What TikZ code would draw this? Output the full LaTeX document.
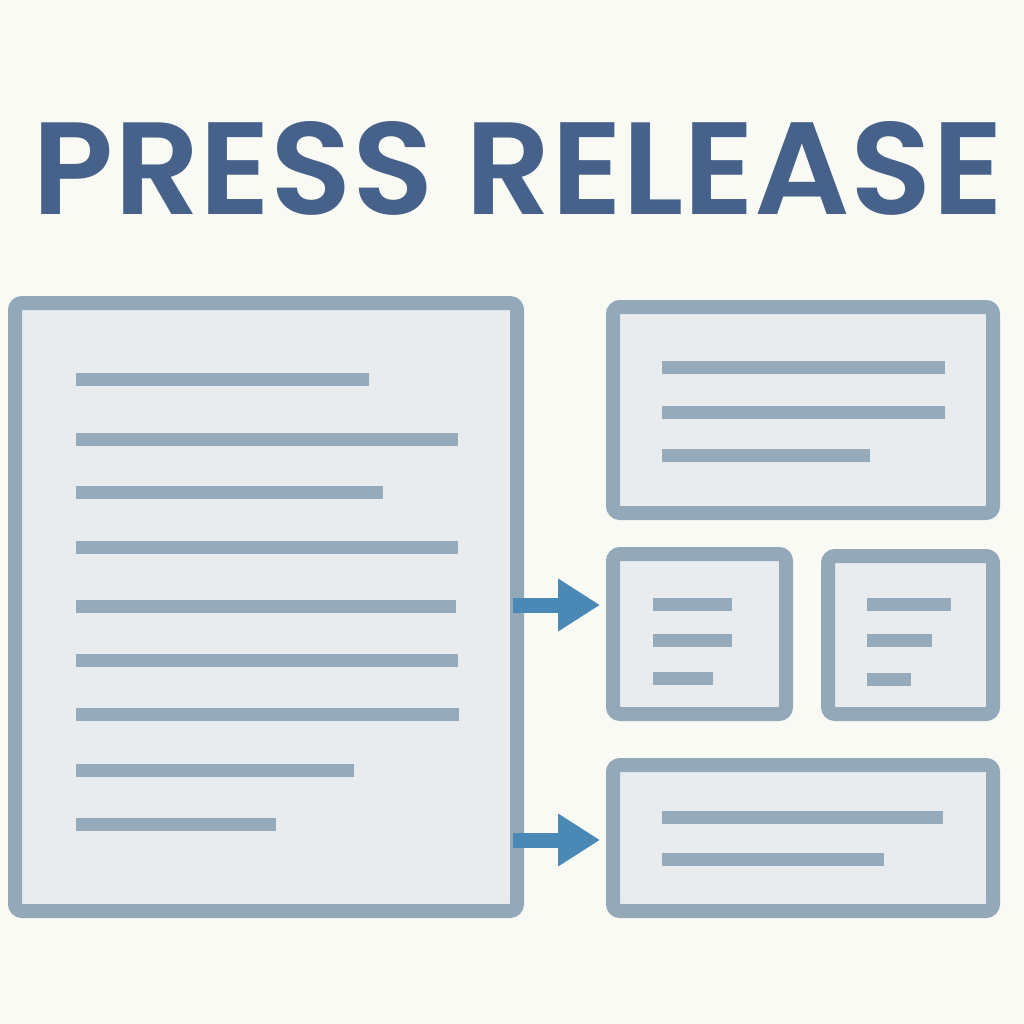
\documentclass[tikz,border=0pt]{standalone}
\usepackage{fontspec}
\setmainfont{Poppins}
\newfontfamily\titlefont{Poppins SemiBold}
\usetikzlibrary{arrows.meta}

\definecolor{paper}{HTML}{FAFAF5}
\definecolor{titleblue}{HTML}{46628A}
\definecolor{frame}{HTML}{93A8B8}
\definecolor{sheet}{HTML}{E8ECEF}
\definecolor{textbar}{HTML}{95AABA}
\definecolor{arrowblue}{HTML}{4A89B5}

\tikzset{
  panel/.style={draw=frame, fill=sheet, line width=14pt, rounded corners=7pt, inner sep=0pt},
  bar/.style={draw=textbar, line width=13pt},
  flow/.style={draw=arrowblue, line width=15pt, -{Triangle[length=42pt,width=50pt]}}
}

\begin{document}
\begin{tikzpicture}[x=1pt, y=-1pt]
  \useasboundingbox[fill=paper] (0,0) rectangle (1024,1024);

  % title
  \node[text=titleblue, inner sep=0pt] (title) at (518,168)
    {\resizebox{970pt}{93pt}{\titlefont PRESS RELEASE}};

  % the long document
  \node[panel, minimum width=502pt, minimum height=608pt] (doc) at (266,607) {};
  \foreach \y/\e in {379/369, 439/458, 492/383, 547/458, 606/456, 660/458, 714/459, 770/354, 824/276}{
    \draw[bar] (76,\y) -- (\e,\y);
  }

  % the pieces it is cut into
  \node[panel, minimum width=380pt, minimum height=206pt] (top) at (803,410) {};
  \foreach \y/\e in {367/945, 412/945, 455/870}{
    \draw[bar] (662,\y) -- (\e,\y);
  }

  \node[panel, minimum width=173pt, minimum height=160pt] (midl) at (699.5,634) {};
  \foreach \y/\e in {604/732, 640/732, 678/713}{
    \draw[bar] (653,\y) -- (\e,\y);
  }

  \node[panel, minimum width=165pt, minimum height=158pt] (midr) at (910.5,635) {};
  \foreach \y/\e in {604/951, 640/932, 679/911}{
    \draw[bar] (867,\y) -- (\e,\y);
  }

  \node[panel, minimum width=380pt, minimum height=146pt] (bot) at (803,838) {};
  \foreach \y/\e in {817/943, 859/884}{
    \draw[bar] (662,\y) -- (\e,\y);
  }

  % arrows
  \coordinate (a1) at ([xshift=-11pt]doc.east |- 0,605);
  \coordinate (b1) at ([xshift=-6pt]midl.west |- 0,605);
  \coordinate (a2) at ([xshift=-11pt]doc.east |- 0,840);
  \coordinate (b2) at ([xshift=-6pt]bot.west |- 0,840);
  \draw[flow] (a1) -- (b1);
  \draw[flow] (a2) -- (b2);
\end{tikzpicture}
\end{document}
